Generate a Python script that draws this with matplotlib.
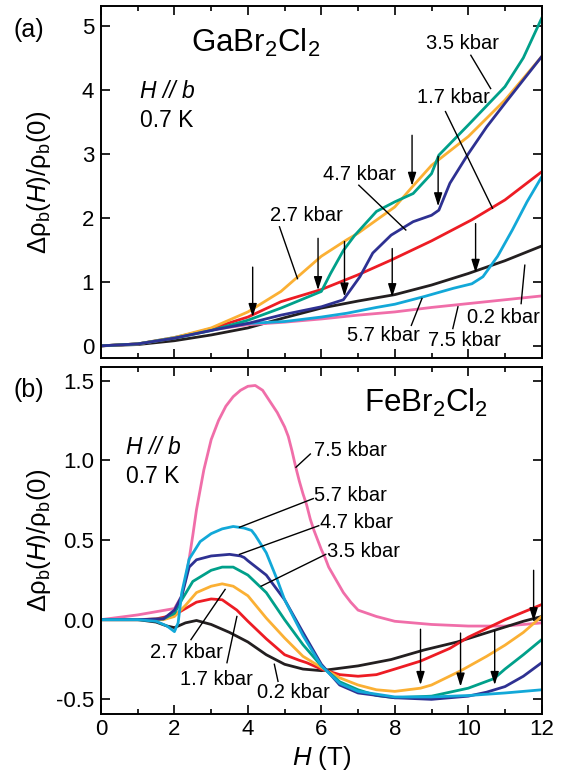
import matplotlib
matplotlib.use("Agg")
import matplotlib.pyplot as plt
import numpy as np

plt.rcParams['font.family'] = ['Liberation Sans', 'DejaVu Sans']
plt.rcParams['mathtext.fontset'] = 'custom'
plt.rcParams['mathtext.rm'] = 'Liberation Sans'
plt.rcParams['mathtext.it'] = 'Liberation Sans:italic'
plt.rcParams['mathtext.bf'] = 'Liberation Sans:bold'
plt.rcParams['mathtext.sf'] = 'Liberation Sans'
plt.rcParams['axes.unicode_minus'] = False

# ---------------- data: panel (a) GaBr2Cl2 ----------------
a_H_02 = [0, 1, 2, 3, 4, 5, 6, 7, 8, 9, 10, 11, 12]
a_V_02 = [0, 0.02, 0.08, 0.17, 0.28, 0.44, 0.59, 0.70, 0.80, 0.95, 1.13, 1.33, 1.56]

a_H_75 = [0, 1, 2, 3, 4, 5, 6, 7, 8, 9, 10, 11, 12]
a_V_75 = [0, 0.03, 0.13, 0.25, 0.33, 0.37, 0.42, 0.48, 0.53, 0.60, 0.66, 0.72, 0.78]

a_H_57 = [0, 1, 2, 3, 4, 5, 6, 6.7, 7.5, 8, 8.8, 9.6, 10.1, 10.4, 10.8, 11.2, 11.6, 12]
a_V_57 = [0, 0.03, 0.13, 0.26, 0.35, 0.38, 0.45, 0.51, 0.60, 0.65, 0.77, 0.90, 0.97, 1.08, 1.40, 1.81, 2.25, 2.64]

a_H_17 = [0, 1, 2, 3, 4, 4.9, 6, 7, 7.9, 9, 10.1, 11, 12]
a_V_17 = [0, 0.03, 0.12, 0.27, 0.45, 0.69, 0.88, 1.11, 1.34, 1.64, 1.97, 2.28, 2.72]

a_H_27 = [0, 1, 2, 3, 4, 4.9, 5.3, 6, 6.7, 7, 8, 8.5, 9, 10, 11, 12]
a_V_27 = [0, 0.03, 0.13, 0.28, 0.53, 0.85, 1.05, 1.40, 1.66, 1.76, 2.17, 2.50, 2.82, 3.27, 3.84, 4.52]

a_H_35 = [0, 1, 2, 3, 4, 4.9, 6, 6.25, 6.6, 6.9, 7.5, 8, 8.5, 9, 9.2, 10, 11, 11.5, 12]
a_V_35 = [0, 0.03, 0.12, 0.24, 0.40, 0.59, 0.85, 1.13, 1.49, 1.72, 2.10, 2.25, 2.38, 2.69, 2.98, 3.45, 4.05, 4.50, 5.12]

a_H_47 = [0, 1, 2, 3, 4, 4.9, 6, 6.6, 7.05, 7.4, 7.9, 8.5, 9.0, 9.2, 9.5, 10, 10.5, 11, 12]
a_V_47 = [0, 0.03, 0.12, 0.24, 0.35, 0.48, 0.61, 0.72, 1.08, 1.45, 1.73, 1.94, 2.04, 2.12, 2.54, 3.00, 3.42, 3.79, 4.52]

# ---------------- data: panel (b) FeBr2Cl2 ----------------
b_H_02 = [0, 1, 1.5, 1.8, 2.0, 2.3, 2.6, 3, 3.5, 4, 4.5, 5, 5.5, 6, 7, 7.9, 8.8, 9.7, 10.6, 11.5, 12]
b_V_02 = [0, 0, -0.015, -0.04, -0.05, -0.02, -0.005, -0.03, -0.08, -0.14, -0.22, -0.28, -0.31, -0.32, -0.29, -0.25, -0.19, -0.14, -0.075, -0.01, 0.02]

b_H_17 = [0, 1, 1.5, 2, 2.3, 2.6, 3, 3.3, 3.7, 4, 4.5, 5, 5.4, 5.6, 6, 6.5, 7, 7.5, 8, 8.7, 9.5, 10, 11, 12]
b_V_17 = [0, 0, 0.005, 0.03, 0.07, 0.11, 0.13, 0.125, 0.06, -0.01, -0.12, -0.22, -0.255, -0.27, -0.31, -0.345, -0.355, -0.345, -0.31, -0.26, -0.18, -0.11, 0.0, 0.095]

b_H_27 = [0, 1, 1.7, 2, 2.3, 2.6, 3, 3.3, 3.6, 4, 4.5, 5, 5.5, 6, 6.5, 7, 7.5, 8, 8.7, 9, 9.8, 10.5, 11, 11.5, 12]
b_V_27 = [0, 0, 0.0, 0.02, 0.09, 0.17, 0.21, 0.225, 0.21, 0.15, 0.01, -0.115, -0.23, -0.30, -0.365, -0.41, -0.44, -0.45, -0.43, -0.41, -0.32, -0.23, -0.16, -0.08, 0.02]

b_H_35 = [0, 1, 1.7, 2, 2.2, 2.5, 3, 3.3, 3.6, 4, 4.5, 5, 5.5, 6, 6.5, 7, 7.5, 8, 9, 10, 10.7, 11, 11.5, 12]
b_V_35 = [0, 0, 0.005, 0.04, 0.125, 0.24, 0.31, 0.33, 0.33, 0.28, 0.17, 0.0, -0.157, -0.29, -0.39, -0.44, -0.476, -0.49, -0.48, -0.43, -0.37, -0.31, -0.22, -0.125]

b_H_47 = [0, 1, 1.7, 2, 2.2, 2.4, 2.6, 3, 3.5, 3.8, 3.9, 4, 4.5, 5, 5.5, 6, 6.5, 7, 8, 9, 10, 10.5, 11, 11.5, 12]
b_V_47 = [0, 0, 0.005, 0.06, 0.15, 0.33, 0.376, 0.40, 0.41, 0.40, 0.39, 0.37, 0.28, 0.125, -0.08, -0.28, -0.41, -0.46, -0.49, -0.50, -0.48, -0.455, -0.42, -0.355, -0.27]

b_H_57 = [0, 1, 1.5, 1.8, 2.0, 2.1, 2.2, 2.4, 2.7, 3, 3.3, 3.6, 3.9, 4.1, 4.2, 4.5, 4.8, 5, 5.5, 6, 6.5, 7, 8, 9, 10, 11, 12]
b_V_57 = [0, 0, -0.01, -0.04, -0.075, -0.02, 0.17, 0.38, 0.49, 0.54, 0.57, 0.585, 0.575, 0.56, 0.53, 0.42, 0.25, 0.125, -0.10, -0.29, -0.40, -0.45, -0.485, -0.485, -0.476, -0.46, -0.44]

b_H_75 = [0, 1, 1.5, 2, 2.2, 2.3, 2.4, 2.5, 2.6, 2.8, 3, 3.2, 3.4, 3.6, 3.8, 4, 4.2, 4.4, 4.6, 4.8, 5, 5.1, 5.2,
          5.3, 5.4, 5.5, 5.6, 5.7, 5.8, 5.9, 6, 6.1, 6.2, 6.4, 6.6, 6.8, 7, 7.5, 8, 9, 10, 11, 12]
b_V_75 = [0, 0.03, 0.05, 0.07, 0.15, 0.25, 0.38, 0.53, 0.69, 0.94, 1.13, 1.25, 1.34, 1.40, 1.44, 1.465, 1.47, 1.44,
          1.37, 1.30, 1.21, 1.15, 1.06, 0.96, 0.87, 0.79, 0.72, 0.63, 0.56, 0.50, 0.44, 0.39, 0.33, 0.25, 0.17,
          0.11, 0.06, 0.02, -0.01, -0.03, -0.04, -0.04, -0.02]

# colours
c02, c17, c27, c35, c47, c57, c75 = '#231f20', '#ed1c24', '#fbb034', '#00a08a', '#2e3192', '#12a8d8', '#f06ea9'

# arrows: (H, tail value, tip value)
a_arrows = [(4.13, 1.23, 0.45), (5.91, 1.68, 0.87), (6.63, 1.63, 0.77), (7.93, 1.52, 0.76),
            (8.47, 3.29, 2.50), (9.18, 2.96, 2.18), (10.2, 1.91, 1.14)]
b_arrows = [(8.7, -0.06, -0.41), (9.79, -0.084, -0.42), (10.72, -0.07, -0.41), (11.78, 0.31, -0.01)]

# labels: (text, text H, text value, line start H, line start V, line end H, line end V)
a_labels = [('3.5 kbar', 9.85, 4.72, 10.07, 4.54, 10.61, 4.02),
            ('1.7 kbar', 9.6, 3.88, 9.38, 3.66, 10.66, 2.15),
            ('4.7 kbar', 7.05, 2.67, 7.02, 2.51, 8.30, 1.81),
            ('2.7 kbar', 5.6, 2.03, 4.86, 1.86, 5.35, 1.05),
            ('5.7 kbar', 7.7, 0.16, 8.45, 0.32, 8.74, 0.74),
            ('7.5 kbar', 9.9, 0.08, 9.58, 0.27, 9.72, 0.61),
            ('0.2 kbar', 10.95, 0.45, 11.44, 0.66, 11.54, 1.26)]
b_labels = [('7.5 kbar', 6.8, 1.06, 5.70, 1.04, 5.31, 0.957),
            ('5.7 kbar', 6.8, 0.78, 5.78, 0.76, 3.77, 0.58),
            ('4.7 kbar', 6.95, 0.61, 5.93, 0.59, 3.77, 0.41),
            ('3.5 kbar', 7.15, 0.43, 6.12, 0.41, 4.36, 0.21),
            ('2.7 kbar', 2.33, -0.205, 2.45, -0.125, 3.38, 0.19),
            ('1.7 kbar', 3.15, -0.375, 3.43, -0.27, 3.70, 0.02),
            ('0.2 kbar', 5.25, -0.46, 4.82, -0.387, 4.72, -0.28)]

fig = plt.figure(figsize=(5.65, 7.76), dpi=100)
L, W = 101 / 565, (541.7 - 101) / 565
axa = fig.add_axes([L, 1 - 358 / 776, W, (358 - 6) / 776])
axb = fig.add_axes([L, 1 - 714 / 776, W, (714 - 367) / 776])

lw = 2.0
for H, V, c in [(a_H_02, a_V_02, c02), (a_H_75, a_V_75, c75), (a_H_57, a_V_57, c57),
                (a_H_17, a_V_17, c17), (a_H_27, a_V_27, c27), (a_H_35, a_V_35, c35),
                (a_H_47, a_V_47, c47)]:
    axa.plot(H, V, color=c, lw=lw)
for H, V, c in [(b_H_75, b_V_75, c75), (b_H_02, b_V_02, c02), (b_H_17, b_V_17, c17),
                (b_H_27, b_V_27, c27), (b_H_35, b_V_35, c35), (b_H_47, b_V_47, c47),
                (b_H_57, b_V_57, c57)]:
    axb.plot(H, V, color=c, lw=lw)

fs_tick = 16
fs_lab = 14.5
for ax in (axa, axb):
    ax.set_xlim(0, 12)
    ax.tick_params(which='both', direction='in', top=True, right=True, labelsize=fs_tick, width=1.2)
    ax.tick_params(which='major', length=6.5)
    ax.tick_params(which='minor', length=3.5)
    ax.tick_params(axis='y', pad=5)
    for s in ax.spines.values():
        s.set_linewidth(1.4)
    ax.set_xticks(np.arange(0, 13, 2))
    ax.set_xticks(np.arange(0, 13, 1), minor=True)
    ax.set_ylabel(r'$\mathrm{Δρ}_\mathrm{b}(H)/\mathrm{ρ}_\mathrm{b}(0)$', fontsize=18.5)
    ax.yaxis.set_label_coords(-0.108, 0.5)

axa.set_ylim(-0.19, 5.31)
axa.set_yticks(range(0, 6))
axa.set_xticklabels([])
axb.set_ylim(-0.592, 1.586)
axb.set_yticks([-0.5, 0.0, 0.5, 1.0, 1.5])
axb.set_yticklabels(['-0.5', '0.0', '0.5', '1.0', '1.5'])
axb.set_xlabel(r'$H$ (T)', fontsize=18.5, labelpad=3)

arrowprops = dict(arrowstyle='-|>,head_length=0.8,head_width=0.25', color='k', lw=1.0,
                  shrinkA=0, shrinkB=0, mutation_scale=10)
for ax, arrows in ((axa, a_arrows), (axb, b_arrows)):
    for h, y0, y1 in arrows:
        ax.annotate('', xy=(h, y1), xytext=(h, y0), arrowprops=arrowprops, zorder=5)

for ax, labels in ((axa, a_labels), (axb, b_labels)):
    for t, tx, ty, x0, y0, x1, y1 in labels:
        ax.text(tx, ty, t, fontsize=fs_lab, ha='center', va='center', zorder=6)
        ax.plot([x0, x1], [y0, y1], color='k', lw=1.0, zorder=5)

axa.text(2.45, 4.74, r'GaBr$_2$Cl$_2$', fontsize=22.5, ha='left', va='center')
axa.text(1.06, 3.97, 'H // b', fontsize=16.5, style='italic', ha='left', va='center')
axa.text(1.06, 3.52, '0.7 K', fontsize=16.5, ha='left', va='center')

axb.text(7.15, 1.36, r'FeBr$_2$Cl$_2$', fontsize=22.5, ha='left', va='center')
axb.text(0.68, 1.08, 'H // b', fontsize=16.5, style='italic', ha='left', va='center')
axb.text(0.68, 0.90, '0.7 K', fontsize=16.5, ha='left', va='center')

fig.text(29 / 565, 1 - 30 / 776, '(a)', fontsize=18, ha='center', va='center')
fig.text(29 / 565, 1 - 390 / 776, '(b)', fontsize=18, ha='center', va='center')

fig.savefig('out.png', dpi=100)
